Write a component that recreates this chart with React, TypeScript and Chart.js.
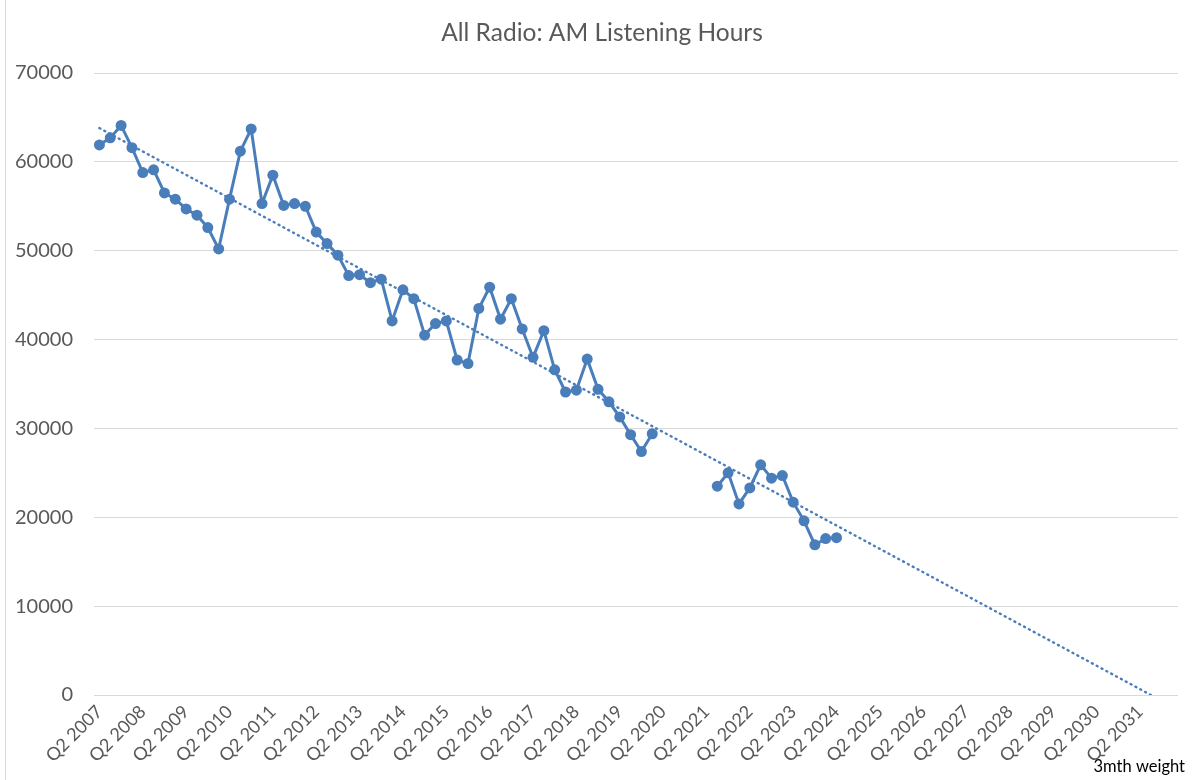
import React, { useEffect, useRef } from "react";
import { Chart, registerables } from "chart.js";

Chart.register(...registerables);

const TITLE = "All Radio: AM Listening Hours";
const NOTE = "3mth weight";
const FONT = "Lato, 'Open Sans', sans-serif";

// Quarterly categories: Q2 2007 .. Q1 2032
const START_YEAR = 2007;
const START_QUARTER = 2;
const CATEGORY_COUNT = 100;
const LABEL_EVERY = 4;
const LAST_LABEL_INDEX = 96; // Q2 2031

// AM listening hours, Q2 2007 .. Q2 2024; null = no survey (Q2 2020 - Q2 2021)
const amHours: (number | null)[] = [
  61900, 62700, 64100, 61600,
  58800, 59100, 56500, 55800,
  54700, 54000, 52600, 50200,
  55800, 61200, 63700, 55300,
  58500, 55100, 55300, 55000,
  52100, 50800, 49500, 47200,
  47300, 46400, 46800, 42100,
  45600, 44600, 40500, 41800,
  42100, 37700, 37300, 43500,
  45900, 42300, 44600, 41200,
  38000, 41000, 36600, 34100,
  34300, 37800, 34400, 33000,
  31300, 29300, 27400, 29400,
  null, null, null, null,
  null, 23500, 25000, 21500,
  23300, 25900, 24400, 24700,
  21700, 19600, 16900, 17600,
  17700,
];

// Linear trendline end points (value at first category, value where it ends)
const trendStartValue = 63800;
const trendEndValue = 0;
const trendEndIndex = 97;

const yMin = 0;
const yMax = 70000;
const yStep = 10000;

const categories: string[] = [];
for (let i = 0; i < CATEGORY_COUNT; i++) {
  const q = ((START_QUARTER - 1 + i) % 4) + 1;
  const y = START_YEAR + Math.floor((START_QUARTER - 1 + i) / 4);
  categories.push(`Q${q} ${y}`);
}

const seriesData = categories.map((_, i) => (i < amHours.length ? amHours[i] : null));
const trendData = categories.map((_, i) =>
  i === 0 ? trendStartValue : i === trendEndIndex ? trendEndValue : null
);

const BLUE = "#4A7EBB";

const textPlugin = {
  id: "extraTexts",
  afterDraw(chart: any) {
    const ctx = chart.ctx;
    ctx.save();
    ctx.font = `24.5px ${FONT}`;
    ctx.fillStyle = "#595959";
    ctx.textAlign = "center";
    ctx.textBaseline = "middle";
    ctx.fillText(TITLE, 602, 33);
    ctx.font = `16.5px ${FONT}`;
    ctx.fillStyle = "#000000";
    ctx.textAlign = "right";
    ctx.fillText(NOTE, 1185, 767);
    ctx.restore();
  },
};

export default function App() {
  const ref = useRef<HTMLCanvasElement | null>(null);

  useEffect(() => {
    if (!ref.current) return;
    const chart = new Chart(ref.current, {
      type: "line",
      data: {
        labels: categories,
        datasets: [
          {
            label: "AM Listening Hours",
            data: seriesData,
            borderColor: BLUE,
            backgroundColor: BLUE,
            borderWidth: 3,
            pointRadius: 5.5,
            pointBorderWidth: 0,
            pointBackgroundColor: BLUE,
            spanGaps: false,
            tension: 0,
          },
          {
            label: "Linear trend",
            data: trendData,
            borderColor: BLUE,
            borderWidth: 2.4,
            borderDash: [1, 4.5],
            borderCapStyle: "round",
            pointRadius: 0,
            spanGaps: true,
            tension: 0,
          },
        ],
      },
      options: {
        animation: false,
        responsive: false,
        maintainAspectRatio: false,
        layout: { padding: { top: 73, right: 17, bottom: 0, left: 0 } },
        plugins: {
          legend: { display: false },
          title: { display: false },
          tooltip: { enabled: false },
        },
        scales: {
          x: {
            type: "category",
            offset: true,
            grid: { display: false, drawTicks: false },
            border: { display: false },
            ticks: {
              autoSkip: false,
              maxRotation: 45,
              minRotation: 45,
              padding: 6,
              color: "#595959",
              font: { family: FONT, size: 18 },
              callback: (_v: any, index: number) =>
                index % LABEL_EVERY === 0 && index <= LAST_LABEL_INDEX ? categories[index] : "",
            },
            afterFit: (s: any) => {
              s.height = 85;
            },
          },
          y: {
            min: yMin,
            max: yMax,
            ticks: {
              stepSize: yStep,
              padding: 21,
              color: "#595959",
              font: { family: FONT, size: 20 },
              callback: (v: any) => String(v),
            },
            grid: { color: "#d9d9d9", drawTicks: false, lineWidth: 1 },
            border: { display: false },
            afterFit: (s: any) => {
              s.width = 94;
            },
          },
        },
      },
      plugins: [textPlugin],
    });
    return () => chart.destroy();
  }, []);

  return (
    <div style={{ position: "absolute", left: 0, top: 0, width: 1195, height: 780, background: "#fff" }}>
      <div style={{ position: "absolute", left: 5, top: 0, width: 1, height: 780, background: "#d9d9d9" }} />
      <canvas ref={ref} width={1195} height={780} style={{ position: "absolute", left: 0, top: 0, width: 1195, height: 780 }} />
    </div>
  );
}
